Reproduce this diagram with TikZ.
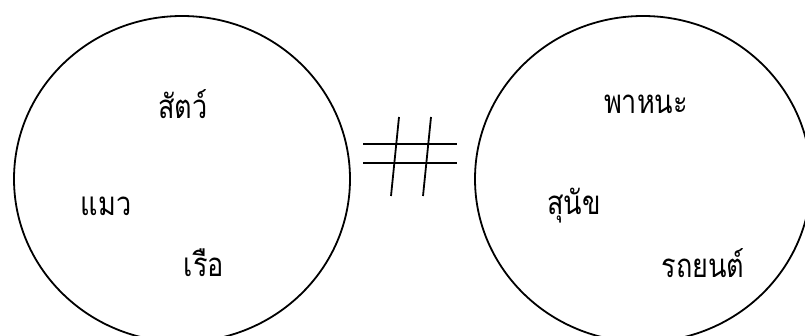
\documentclass[tikz,border=0pt]{standalone}
\usepackage{fontspec}
\usepackage{graphicx}
\newfontfamily\thaifont[Script=Thai]{Loma}
\usetikzlibrary{shapes.geometric}
\newcommand{\thw}[1]{\scalebox{0.82}[1]{#1}}
\tikzset{
  setbox/.style={draw=black, line width=1.8pt, ellipse, minimum width=336pt, minimum height=326pt, inner sep=0pt},
  word/.style={inner sep=0pt, font=\thaifont\fontsize{33}{38}\selectfont},
  neqline/.style={line width=1.8pt}
}
\begin{document}
\begin{tikzpicture}[x=1pt,y=-1pt]
\useasboundingbox (0,0) rectangle (805,336);
\clip (0,0) rectangle (805,336);
\node[setbox] (L) at (182,179) {};
\node[setbox] (R) at (643,179) {};
\node[word] (w1) at (183,104) {\thw{สัตว์}};
\node[word] (w2) at (106,206) {\thw{แมว}};
\node[word] (w3) at (204,263) {\thw{เรือ}};
\node[word] (w4) at (646,104) {\thw{พาหนะ}};
\node[word] (w5) at (574,206) {\thw{สุนัข}};
\node[word] (w6) at (703,263) {\thw{รถยนต์}};
\coordinate (h1a) at (363,144);
\coordinate (h1b) at (457,144);
\coordinate (h2a) at (363,163);
\coordinate (h2b) at (457,163);
\coordinate (s1a) at (399,117);
\coordinate (s1b) at (391,196);
\coordinate (s2a) at (431,117);
\coordinate (s2b) at (423,196);
\draw[neqline] (h1a) -- (h1b);
\draw[neqline] (h2a) -- (h2b);
\draw[neqline] (s1a) -- (s1b);
\draw[neqline] (s2a) -- (s2b);
\end{tikzpicture}
\end{document}
